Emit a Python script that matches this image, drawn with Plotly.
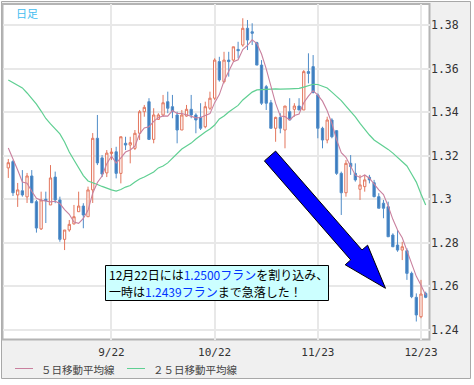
import pandas as pd
import plotly.graph_objects as go

# ---------------- data ----------------
dates = pd.bdate_range("2010-08-23", periods=90).strftime("%Y-%m-%d").tolist()

open_ = [1.3144, 1.3173, 1.3020, 1.3039, 1.3011, 1.3107, 1.2989, 1.2864, 1.3000, 1.2974,
         1.3102, 1.2997, 1.2816, 1.2859, 1.2887, 1.2943, 1.2969, 1.2920, 1.3043, 1.3280,
         1.3190, 1.3121, 1.3210, 1.3218, 1.3119, 1.3257, 1.3249, 1.3234, 1.3303, 1.3402,
         1.3448, 1.3275, 1.3367, 1.3387, 1.3448, 1.3425, 1.3387, 1.3318, 1.3382, 1.3413,
         1.3387, 1.3376, 1.3333, 1.3418, 1.3464, 1.3632, 1.3540, 1.3639, 1.3639, 1.3688,
         1.3708, 1.3785, 1.3769, 1.3719, 1.3616, 1.3517, 1.3443, 1.3326, 1.3376, 1.3318,
         1.3402, 1.3413, 1.3428, 1.3410, 1.3586, 1.3609, 1.3479, 1.3326, 1.3272, 1.3364,
         1.3315, 1.3119, 1.3030, 1.3165, 1.3119, 1.3046, 1.3058, 1.3101, 1.3076, 1.3012,
         1.2982, 1.2966, 1.2836, 1.2790, 1.2767, 1.2764, 1.2660, 1.2550, 1.2461, 1.2568]
high = [1.3185, 1.3180, 1.3075, 1.3134, 1.3121, 1.3134, 1.2997, 1.3035, 1.3035, 1.3157,
        1.3127, 1.3012, 1.2859, 1.2905, 1.2974, 1.3035, 1.2982, 1.3058, 1.3304, 1.3387,
        1.3203, 1.3226, 1.3235, 1.3241, 1.3287, 1.3287, 1.3287, 1.3318, 1.3410, 1.3433,
        1.3464, 1.3418, 1.3395, 1.3479, 1.3494, 1.3479, 1.3402, 1.3410, 1.3433, 1.3479,
        1.3395, 1.3441, 1.3448, 1.3494, 1.3647, 1.3654, 1.3677, 1.3677, 1.3700, 1.3723,
        1.3831, 1.3823, 1.3808, 1.3723, 1.3639, 1.3525, 1.3456, 1.3379, 1.3395, 1.3428,
        1.3464, 1.3441, 1.3464, 1.3593, 1.3670, 1.3662, 1.3486, 1.3333, 1.3379, 1.3372,
        1.3318, 1.3127, 1.3180, 1.3203, 1.3165, 1.3112, 1.3112, 1.3112, 1.3089, 1.3028,
        1.2997, 1.2989, 1.2844, 1.2859, 1.2805, 1.2775, 1.2668, 1.2568, 1.2630, 1.2576]
low = [1.3098, 1.3015, 1.2965, 1.3012, 1.2983, 1.2983, 1.2847, 1.2859, 1.2891, 1.2974,
       1.2982, 1.2805, 1.2767, 1.2851, 1.2884, 1.2943, 1.2867, 1.2920, 1.2983, 1.3157,
       1.3102, 1.3102, 1.3180, 1.3096, 1.3073, 1.3226, 1.3165, 1.3226, 1.3272, 1.3379,
       1.3272, 1.3257, 1.3364, 1.3379, 1.3395, 1.3372, 1.3257, 1.3318, 1.3379, 1.3372,
       1.3303, 1.3318, 1.3326, 1.3410, 1.3456, 1.3540, 1.3532, 1.3563, 1.3632, 1.3647,
       1.3700, 1.3685, 1.3708, 1.3616, 1.3433, 1.3410, 1.3326, 1.3264, 1.3303, 1.3234,
       1.3364, 1.3379, 1.3410, 1.3410, 1.3532, 1.3486, 1.3280, 1.3234, 1.3257, 1.3280,
       1.3112, 1.2928, 1.3012, 1.3112, 1.3081, 1.2997, 1.3035, 1.3073, 1.3009, 1.2959,
       1.2913, 1.2828, 1.2782, 1.2759, 1.2721, 1.2630, 1.2546, 1.2439, 1.2454, 1.2546]
close = [1.3168, 1.3030, 1.3043, 1.3020, 1.3107, 1.2984, 1.2868, 1.2997, 1.2994, 1.3098,
         1.2997, 1.2816, 1.2859, 1.2885, 1.2920, 1.2969, 1.2928, 1.3043, 1.3280, 1.3167,
         1.3116, 1.3212, 1.3217, 1.3119, 1.3287, 1.3249, 1.3260, 1.3303, 1.3402, 1.3422,
         1.3275, 1.3387, 1.3387, 1.3443, 1.3418, 1.3402, 1.3318, 1.3387, 1.3413, 1.3387,
         1.3364, 1.3326, 1.3425, 1.3464, 1.3639, 1.3548, 1.3639, 1.3632, 1.3700, 1.3682,
         1.3785, 1.3731, 1.3762, 1.3616, 1.3441, 1.3441, 1.3326, 1.3376, 1.3326, 1.3428,
         1.3364, 1.3428, 1.3410, 1.3586, 1.3578, 1.3490, 1.3326, 1.3272, 1.3364, 1.3287,
         1.3119, 1.3030, 1.3165, 1.3150, 1.3089, 1.3066, 1.3089, 1.3089, 1.3012, 1.2959,
         1.2959, 1.2828, 1.2782, 1.2767, 1.2782, 1.2660, 1.2553, 1.2469, 1.2565, 1.2550]
# closes of the four sessions before the first visible candle (for the 5-day average)
pre_close = [1.3306, 1.3272, 1.3295, 1.3136]
# 25-day moving average
ma25 = [1.3548, 1.3536, 1.3525, 1.3511, 1.3488, 1.3463, 1.3437, 1.3405, 1.3371, 1.3346,
        1.3325, 1.3300, 1.3263, 1.3217, 1.3180, 1.3144, 1.3109, 1.3084, 1.3077, 1.3068,
        1.3059, 1.3050, 1.3043, 1.3038, 1.3045, 1.3056, 1.3063, 1.3079, 1.3093, 1.3102,
        1.3114, 1.3125, 1.3144, 1.3153, 1.3167, 1.3190, 1.3212, 1.3231, 1.3245, 1.3258,
        1.3277, 1.3295, 1.3309, 1.3323, 1.3341, 1.3369, 1.3382, 1.3401, 1.3414, 1.3431,
        1.3456, 1.3474, 1.3492, 1.3502, 1.3504, 1.3506, 1.3505, 1.3507, 1.3506, 1.3505,
        1.3507, 1.3508, 1.3509, 1.3515, 1.3522, 1.3528, 1.3527, 1.3520, 1.3511, 1.3492,
        1.3474, 1.3453, 1.3428, 1.3405, 1.3378, 1.3348, 1.3320, 1.3295, 1.3272, 1.3258,
        1.3245, 1.3229, 1.3212, 1.3192, 1.3176, 1.3153, 1.3116, 1.3079, 1.3024, 1.2974]

x_tick_dates = ["2010-09-22", "2010-10-22", "2010-11-23", "2010-12-23"]
x_tick_text = ["9/22", "10/22", "11/23", "12/23"]
y_tick_vals = [1.24, 1.26, 1.28, 1.30, 1.32, 1.34, 1.36, 1.38]
y_tick_text = ["1.24", "1.26", "1.28", "1.3", "1.32", "1.34", "1.36", "1.38"]
legend_names = ["５日移動平均線", "２５日移動平均線"]
title_label = "日足"
note_line1 = '12月22日には<span style="color:#0033ff">1.2500フラン</span>を割り込み、'
note_line2 = '一時は<span style="color:#0033ff">1.2439フラン</span>まで急落した！'

ma5 = pd.Series(pre_close + close).rolling(5).mean().iloc[len(pre_close):].tolist()

# ---------------- layout helpers (pixel -> paper) ----------------
W, H = 474, 385
PL, PR, PT, PB = 3, 430, 4, 340


def px(x):
    return (x - PL) / (PR - PL)


def py(y):
    return (PB - y) / (PB - PT)


PINK = "#c9809e"
GREEN = "#5fcf92"

fig = go.Figure()
fig.add_trace(go.Candlestick(
    x=dates, open=open_, high=high, low=low, close=close,
    increasing=dict(line=dict(color="#e3765d", width=1), fillcolor="#ffffff"),
    decreasing=dict(line=dict(color="#4f8cc8", width=1), fillcolor="#3b7bbe"),
    whiskerwidth=0, hoverinfo="skip", showlegend=False,
))
fig.add_trace(go.Scatter(x=dates, y=ma25, mode="lines", line=dict(color=GREEN, width=1.2),
                         hoverinfo="skip", showlegend=False))
fig.add_trace(go.Scatter(x=dates, y=ma5, mode="lines", line=dict(color=PINK, width=1.1),
                         hoverinfo="skip", showlegend=False))

# arrow polygon (pixel coordinates of the decoration)
arrow_px = [(275.6, 151.1), (362.0, 250.0), (367.6, 245.2), (385.5, 288.3),
            (345.2, 264.8), (350.7, 259.9), (264.4, 160.9)]
arrow_path = "M " + " L ".join(f"{px(a):.5f},{py(b):.5f}" for a, b in arrow_px) + " Z"

shapes = [
    dict(type="rect", xref="paper", yref="paper", x0=px(1.5), x1=px(470.5), y0=py(378.5), y1=py(1.5),
         fillcolor="#f0f0f0", line=dict(color="#a8a8a8", width=1), layer="below"),
    dict(type="rect", xref="paper", yref="paper", x0=px(2.5), x1=px(429.5), y0=py(339.5), y1=py(4),
         fillcolor="#ffffff", line=dict(color="#b4b4b4", width=2), layer="below"),
    dict(type="path", xref="paper", yref="paper", path=arrow_path,
         fillcolor="#0000ff", line=dict(color="#000000", width=1), layer="above"),
    dict(type="rect", xref="paper", yref="paper", x0=px(105.5), x1=px(328.5), y0=py(300.5), y1=py(265.5),
         fillcolor="#ccffff", line=dict(color="#000000", width=1), layer="above"),
    dict(type="line", xref="paper", yref="paper", x0=px(15), x1=px(33), y0=py(368.5), y1=py(368.5),
         line=dict(color=PINK, width=1)),
    dict(type="line", xref="paper", yref="paper", x0=px(127), x1=px(145), y0=py(368.5), y1=py(368.5),
         line=dict(color=GREEN, width=1)),
]

JP = "Noto Sans CJK JP"
annotations = [
    dict(text=title_label, xref="paper", yref="paper", x=px(14), y=py(12.5), xanchor="left",
         yanchor="middle", showarrow=False, font=dict(family=JP, size=11, color="#45bdf0")),
    dict(text=note_line1, xref="paper", yref="paper", x=px(107), y=py(274), xanchor="left",
         yanchor="middle", showarrow=False, font=dict(family=JP, size=12, color="#000000")),
    dict(text=note_line2, xref="paper", yref="paper", x=px(107), y=py(291.5), xanchor="left",
         yanchor="middle", showarrow=False, font=dict(family=JP, size=12, color="#000000")),
    dict(text=legend_names[0], xref="paper", yref="paper", x=px(39), y=py(369), xanchor="left",
         yanchor="middle", showarrow=False, font=dict(family=JP, size=10.5, color="#444444")),
    dict(text=legend_names[1], xref="paper", yref="paper", x=px(151), y=py(369), xanchor="left",
         yanchor="middle", showarrow=False, font=dict(family=JP, size=10.5, color="#444444")),
]

fig.update_layout(
    width=W, height=H, autosize=False,
    margin=dict(l=PL, r=W - PR, t=PT, b=H - PB, pad=0),
    paper_bgcolor="#ffffff", plot_bgcolor="rgba(0,0,0,0)",
    showlegend=False, shapes=shapes, annotations=annotations,
    xaxis=dict(type="category", range=[-1.13, 89.92], rangeslider=dict(visible=False),
               tickmode="array", tickvals=x_tick_dates, ticktext=x_tick_text,
               showgrid=True, gridcolor="#e8e8e8", gridwidth=2, ticks="", zeroline=False,
               showline=False, ticklabelstandoff=4,
               tickfont=dict(family="DejaVu Sans Mono", size=11, color="#333333")),
    yaxis=dict(side="right", range=[1.23541, 1.38964], tickmode="array",
               tickvals=y_tick_vals, ticktext=y_tick_text, showgrid=True,
               gridcolor="#e8e8e8", gridwidth=2, ticks="", zeroline=False, showline=False,
               tickfont=dict(family="DejaVu Sans Mono", size=11.5, color="#333333")),
)

fig.write_html("out.html", config={"displayModeBar": False},
               post_script="document.body.style.margin='0';document.body.style.overflow='hidden';")
